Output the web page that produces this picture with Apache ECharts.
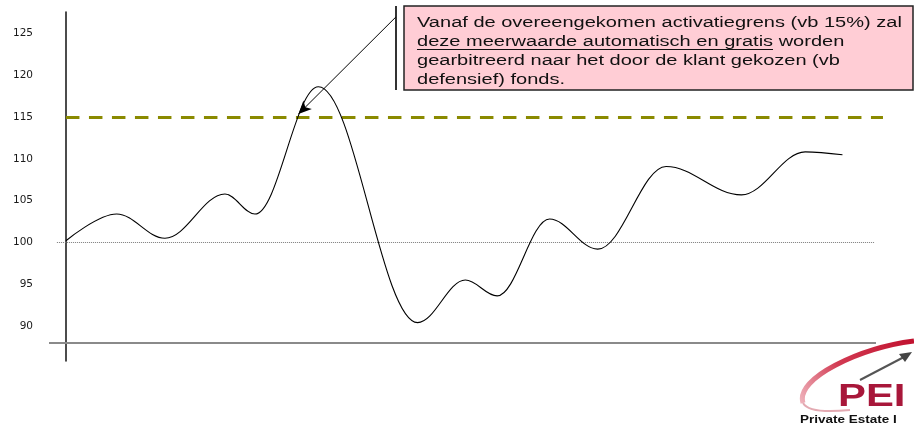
<!DOCTYPE html>
<html>
<head>
<meta charset="utf-8">
<script src="https://cdn.jsdelivr.net/npm/echarts@6/dist/echarts.min.js"></script>
<style>
  html, body { margin: 0; padding: 0; background: #ffffff; }
  #chart { width: 914px; height: 426px; }
</style>
</head>
<body>
<div id="chart"></div>
<script>
// ---- data (x in months, y = index value) ----
var months = [0, 3.92, 7.65, 12.29, 14.61, 19.51, 27.18, 30.87, 33.33, 37.38, 41.10, 46.39, 52.21, 57.14, 60.02];
var values = [100.2, 103.4, 100.5, 105.8, 103.4, 118.65, 90.4, 95.5, 93.6, 102.8, 99.2, 109.1, 105.7, 110.85, 110.5];
var yTickLabels = [90, 95, 100, 105, 110, 115, 120, 125];
var baseLevel = 100;        // start level (dotted line)
var activationLevel = 115;  // activation threshold (+15%)
var axisBaseLevel = 88;     // level of the horizontal axis line
var calloutLines = [
  'Vanaf de overeengekomen activatiegrens (vb 15%) zal',
  'deze meerwaarde automatisch en gratis worden',
  'gearbitreerd naar het door de klant gekozen (vb',
  'defensief) fonds.'
];
var arrowFrom = [25.5, 127.0];
var arrowTo = [17.97, 115.38];

var seriesData = months.map(function (m, i) { return [m, values[i]]; });

var chart = echarts.init(document.getElementById('chart'), null, { renderer: 'canvas' });

var option = {
  animation: false,
  backgroundColor: '#ffffff',
  grid: { left: 49, right: 30, top: 12, bottom: 65, containLabel: false },
  xAxis: {
    type: 'value',
    min: -1.31,
    max: 63.23,
    axisLine: { show: false },
    axisTick: { show: false },
    axisLabel: { show: false },
    splitLine: { show: false }
  },
  yAxis: {
    type: 'value',
    min: 85.8,
    max: 127.6,
    offset: -9,
    axisLine: { show: true, lineStyle: { color: '#111', width: 1.5 } },
    axisTick: { show: false },
    splitLine: { show: false },
    axisLabel: {
      customValues: yTickLabels,
      margin: 25,
      color: '#1a1a1a',
      fontFamily: 'DejaVu Sans',
      fontSize: 10.5,
      padding: [0, 0, 4, 0]
    }
  },
  series: [
    {
      type: 'line',
      name: 'fonds',
      data: seriesData,
      smooth: 0.36,
      smoothMonotone: 'x',
      showSymbol: false,
      symbol: 'none',
      lineStyle: { color: '#000', width: 1.1 },
      z: 5
    },
    {
      type: 'line',
      data: [],
      silent: true,
      markLine: {
        silent: true,
        animation: false,
        symbol: ['none', 'none'],
        label: { show: false },
        data: [
          [ { coord: [-1.31, axisBaseLevel], lineStyle: { color: '#8a8a8a', width: 2, type: 'solid' } },
            { coord: [62.61, axisBaseLevel] } ],
          [ { coord: [-0.70, baseLevel], lineStyle: { color: '#7a7a7a', width: 1, type: [1, 1] } },
            { coord: [62.53, baseLevel] } ],
          [ { coord: [0, activationLevel], lineStyle: { color: '#8a8a00', width: 3, type: [13.5, 9.5] } },
            { coord: [63.15, activationLevel] } ]
        ]
      }
    },
    {
      type: 'line',
      data: [],
      silent: true,
      z: 6,
      markLine: {
        silent: true,
        animation: false,
        symbol: ['none', 'arrow'],
        symbolSize: [9, 13],
        label: { show: false },
        lineStyle: { color: '#000', width: 1, type: 'solid' },
        data: [
          [ { coord: arrowFrom }, { coord: arrowTo } ]
        ]
      }
    }
  ],
  graphic: [
    { type: 'line', shape: { x1: 396, y1: 6, x2: 396, y2: 90 }, style: { stroke: '#333', lineWidth: 2 }, silent: true },
    { type: 'rect', shape: { x: 404, y: 6, width: 509, height: 84 }, style: { fill: '#ffcdd5', stroke: '#222', lineWidth: 1.5 }, silent: true },
    { type: 'text', x: 417, y: 13.5, scaleX: 1.43, silent: true,
      style: { text: calloutLines.join('\n'), font: '14px "Liberation Sans", Arial, sans-serif', fill: '#111', lineHeight: 19, verticalAlign: 'top', align: 'left' } },
    { type: 'line', shape: { x1: 417, y1: 49.5, x2: 773, y2: 49.5 }, style: { stroke: '#111', lineWidth: 1 }, silent: true },
    // logo
    { type: 'bezierCurve', silent: true,
      shape: { x1: 914, y1: 341, cpx1: 860, cpy1: 348, cpx2: 795, cpy2: 378, x2: 803, y2: 403 },
      style: { stroke: new echarts.graphic.LinearGradient(1, 0, 0, 1, [ { offset: 0, color: '#c0102e' }, { offset: 0.6, color: '#d23a52' }, { offset: 1, color: '#f0b8c0' } ]), lineWidth: 5, fill: 'none' } },
    { type: 'bezierCurve', silent: true,
      shape: { x1: 803, y1: 403, cpx1: 808, cpy1: 412, cpx2: 830, cpy2: 412, x2: 850, y2: 410 },
      style: { stroke: '#e3aab2', lineWidth: 2, fill: 'none' } },
    { type: 'line', silent: true, shape: { x1: 860, y1: 380, x2: 904, y2: 357 }, style: { stroke: '#555', lineWidth: 2 } },
    { type: 'polygon', silent: true, shape: { points: [[912, 352], [899, 354], [905, 362]] }, style: { fill: '#444' } },
    { type: 'text', x: 838, y: 397, scaleX: 1.35, silent: true,
      style: { text: 'PEI', font: 'bold 31px "Liberation Sans", Arial, sans-serif', fill: '#a8173a', verticalAlign: 'middle', align: 'left' } },
    { type: 'text', x: 800, y: 420, scaleX: 1.35, silent: true,
      style: { text: 'Private Estate I', font: 'bold 10px "Liberation Sans", Arial, sans-serif', fill: '#111', verticalAlign: 'middle', align: 'left' } }
  ]
};

chart.setOption(option);
</script>
</body>
</html>
